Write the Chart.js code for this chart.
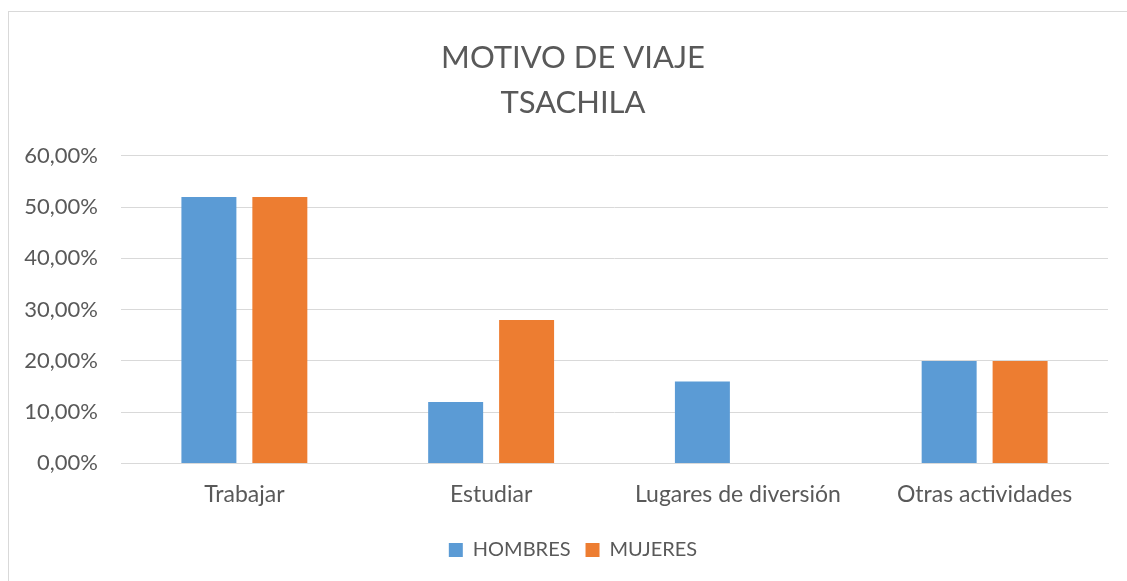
<!DOCTYPE html>
<html>
<head>
<meta charset="utf-8">
<script src="https://cdn.jsdelivr.net/npm/chart.js@4"></script>
<style>
  html, body { margin: 0; padding: 0; background: #fff; overflow: hidden; }
  #box {
    position: absolute; left: 8px; top: 11px;
    width: 1140px; height: 590px;
    border: 1px solid #d9d9d9; box-sizing: border-box;
  }
  canvas { position: absolute; left: 0; top: 0; }
</style>
</head>
<body>
<div id="box"><canvas id="chart" width="1128" height="570"></canvas></div>
<script>
const categories = ["Trabajar", "Estudiar", "Lugares de diversión", "Otras actividades"];
const hombres = [52, 12, 16, 20];
const mujeres = [52, 28, 0, 20];
const yTicks = [0, 10, 20, 30, 40, 50, 60];

const textColor = "#595959";
const fontFamily = "Lato, 'Open Sans', sans-serif";

new Chart(document.getElementById("chart"), {
  type: "bar",
  data: {
    labels: categories,
    datasets: [
      {
        label: "HOMBRES",
        data: hombres,
        backgroundColor: "#5b9bd5",
        categoryPercentage: 0.575,
        barPercentage: 0.775
      },
      {
        label: "MUJERES",
        data: mujeres,
        backgroundColor: "#ed7d31",
        categoryPercentage: 0.575,
        barPercentage: 0.775
      }
    ]
  },
  options: {
    responsive: false,
    animation: false,
    layout: { padding: { left: 0, right: 0, top: 0, bottom: 12 } },
    scales: {
      y: {
        min: 0,
        max: 60,
        afterBuildTicks: (scale) => {
          scale.ticks = yTicks.map((v) => ({ value: v }))
        },
        afterFit: (scale) => { scale.width = 112 },
        ticks: {
          padding: 23,
          color: textColor,
          font: { family: fontFamily, size: 22 },
          callback: (value) => value.toFixed(2).replace(".", ",") + "%"
        },
        grid: { color: "#d9d9d9", lineWidth: 1, drawTicks: false },
        border: { display: false }
      },
      // empty right-hand gap so the title stays centred on the whole box
      gap: {
        position: "right",
        afterFit: (scale) => { scale.width = 29 },
        ticks: { display: false },
        grid: { display: false },
        border: { display: false }
      },
      x: {
        ticks: {
          padding: 17,
          color: textColor,
          font: { family: fontFamily, size: 23 }
        },
        grid: { display: false, drawTicks: false },
        border: { display: true, color: "#d9d9d9", width: 1 }
      }
    },
    plugins: {
      title: {
        display: true,
        text: ["MOTIVO DE VIAJE", "TSACHILA"],
        color: textColor,
        font: { family: fontFamily, size: 31, weight: "normal", lineHeight: 1.45 },
        padding: { top: 24, bottom: 30 }
      },
      legend: {
        position: "bottom",
        labels: {
          color: textColor,
          font: { family: fontFamily, size: 20 },
          boxWidth: 14,
          boxHeight: 14,
          padding: 15
        }
      },
      tooltip: { enabled: false }
    }
  }
})
</script>
</body>
</html>
